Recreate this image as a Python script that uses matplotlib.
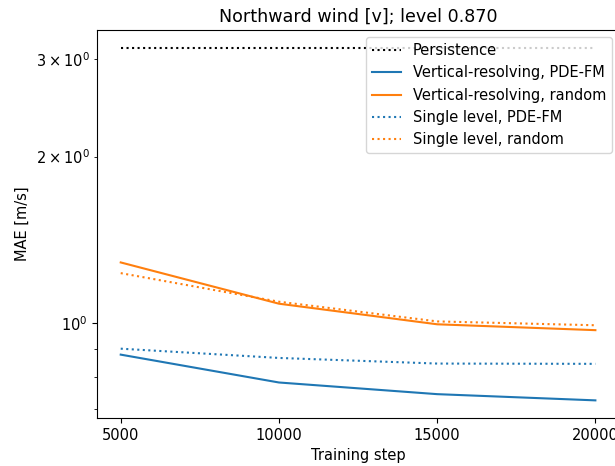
import numpy as np
import matplotlib
matplotlib.use('Agg')
import matplotlib.pyplot as plt

# data
steps = [5000, 10000, 15000, 20000]
persistence = [3.145, 3.145, 3.145, 3.145]
vert_pdefm = [0.878, 0.782, 0.745, 0.726]
vert_random = [1.288, 1.085, 0.996, 0.972]
single_pdefm = [0.900, 0.866, 0.846, 0.845]
single_random = [1.232, 1.094, 1.008, 0.992]

plt.rcParams['font.size'] = 10.5

fig = plt.figure(figsize=(6.15, 4.66), dpi=100)
# the original image is cropped on the right, so the axes run past the edge
ax = fig.add_axes([0.1577, 0.103, 0.849, 0.8326])

ax.plot(steps, persistence, color='black', linestyle=':', label='Persistence')
ax.plot(steps, vert_pdefm, color='C0', label='Vertical-resolving, PDE-FM')
ax.plot(steps, vert_random, color='C1', label='Vertical-resolving, random')
ax.plot(steps, single_pdefm, color='C0', linestyle=':', label='Single level, PDE-FM')
ax.plot(steps, single_random, color='C1', linestyle=':', label='Single level, random')

ax.set_yscale('log')
ax.set_xticks(steps)
ax.set_xlabel('Training step')
ax.set_ylabel('MAE [m/s]')
ax.set_title('Northward wind [v]; level 0.870')
ax.legend(loc='upper right')

fig.savefig('out.png', dpi=100)
